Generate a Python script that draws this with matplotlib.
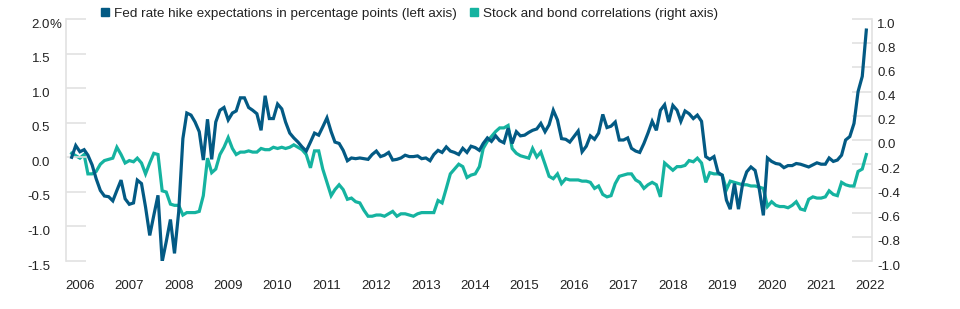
import matplotlib
matplotlib.use('Agg')
import matplotlib.pyplot as plt
import matplotlib.dates as mdates
from matplotlib.lines import Line2D
from matplotlib.transforms import ScaledTranslation
import pandas as pd

# monthly readings, Nov 2005 onwards
fed_hike = [
    0.00, 0.17, 0.08, 0.11, 0.03, -0.11, -0.31, -0.48, -0.56, -0.57, -0.63, -0.48,
    -0.33, -0.60, -0.68, -0.66, -0.33, -0.38, -0.72, -1.13, -0.84, -0.55, -1.51, -1.22,
    -0.90, -1.39, -0.79, 0.27, 0.64, 0.61, 0.51, 0.37, -0.04, 0.55, -0.03, 0.51,
    0.68, 0.72, 0.54, 0.64, 0.67, 0.86, 0.86, 0.72, 0.68, 0.63, 0.39, 0.89,
    0.56, 0.56, 0.77, 0.70, 0.51, 0.35, 0.28, 0.22, 0.15, 0.09, 0.22, 0.35,
    0.32, 0.44, 0.57, 0.37, 0.22, 0.20, 0.10, -0.05, -0.01, -0.02, -0.01, -0.02, -0.03,
    0.04, 0.09, 0.01, 0.03, 0.07, -0.04, -0.03, -0.01, 0.03, 0.01, 0.01, 0.02,
    -0.02, -0.01, -0.05, 0.04, 0.10, 0.07, 0.15, 0.09, 0.07, 0.04, 0.13,
    0.07, 0.16, 0.14, 0.10, 0.20, 0.28, 0.23, 0.31, 0.24, 0.21, 0.42, 0.20,
    0.37, 0.31, 0.32, 0.36, 0.39, 0.41, 0.49, 0.37, 0.47, 0.68, 0.54, 0.27,
    0.26, 0.22, 0.30, 0.38, 0.08, 0.16, 0.31, 0.26, 0.35, 0.62, 0.43, 0.45,
    0.51, 0.25, 0.25, 0.28, 0.13, 0.09, 0.07, 0.20, 0.35, 0.52, 0.39,
    0.68, 0.76, 0.51, 0.75, 0.68, 0.52, 0.67, 0.63, 0.56, 0.61, 0.52, 0.01, -0.03,
    0.01, -0.22, -0.26, -0.62, -0.75, -0.38, -0.75, -0.38, -0.21, -0.14, -0.19, -0.45, -0.84,
    -0.01, -0.06, -0.09, -0.10, -0.15, -0.12, -0.12, -0.09, -0.10, -0.12, -0.14, -0.11,
    -0.08, -0.10, -0.10, -0.01, -0.06, -0.04, 0.03, 0.25, 0.30, 0.49, 0.95, 1.17, 1.84,
]

stock_bond_corr = [
    -0.11, -0.13, -0.15, -0.12, -0.28, -0.28, -0.26, -0.20, -0.17, -0.16, -0.15, -0.06,
    -0.12, -0.19, -0.17, -0.18, -0.15, -0.19, -0.28, -0.19, -0.11, -0.12, -0.42, -0.43,
    -0.53, -0.54, -0.54, -0.62, -0.60, -0.60, -0.60, -0.59, -0.46, -0.15, -0.27, -0.24,
    -0.12, -0.06, 0.02, -0.07, -0.12, -0.10, -0.10, -0.09, -0.10, -0.10, -0.07, -0.08,
    -0.08, -0.06, -0.07, -0.06, -0.07, -0.06, -0.04, -0.06, -0.08, -0.12, -0.23, -0.09,
    -0.09, -0.24, -0.35, -0.46, -0.41, -0.37, -0.41, -0.49, -0.48, -0.51, -0.52, -0.58, -0.63,
    -0.63, -0.62, -0.62, -0.63, -0.61, -0.59, -0.63, -0.61, -0.61, -0.62, -0.63, -0.61,
    -0.60, -0.60, -0.60, -0.60, -0.50, -0.52, -0.40, -0.28, -0.24, -0.20, -0.22,
    -0.31, -0.29, -0.28, -0.22, -0.07, -0.01, 0.03, 0.07, 0.10, 0.10, 0.12, -0.07,
    -0.11, -0.13, -0.14, -0.15, -0.07, -0.14, -0.10, -0.20, -0.30, -0.32, -0.28, -0.36,
    -0.32, -0.33, -0.33, -0.33, -0.34, -0.34, -0.35, -0.40, -0.38, -0.45, -0.47, -0.46,
    -0.36, -0.30, -0.29, -0.28, -0.28, -0.33, -0.35, -0.40, -0.37, -0.35, -0.37,
    -0.47, -0.19, -0.22, -0.25, -0.22, -0.22, -0.21, -0.17, -0.18, -0.15, -0.19, -0.35, -0.27,
    -0.28, -0.28, -0.29, -0.41, -0.34, -0.35, -0.36, -0.37, -0.37, -0.38, -0.38, -0.39, -0.40,
    -0.55, -0.51, -0.54, -0.55, -0.55, -0.56, -0.54, -0.51, -0.57, -0.58, -0.49, -0.47,
    -0.48, -0.48, -0.47, -0.42, -0.45, -0.46, -0.35, -0.37, -0.38, -0.38, -0.26, -0.24, -0.12,
]

months = pd.date_range('2005-11-01', periods=len(fed_hike), freq='MS')

left_ticks = [2.0, 1.5, 1.0, 0.5, 0.0, -0.5, -1.0, -1.5]
right_ticks = [1.0, 0.8, 0.6, 0.4, 0.2, 0.0, -0.2, -0.4, -0.6, -0.8, -1.0]
years = list(range(2006, 2023))

fed_label = 'Fed rate hike expectations in percentage points (left axis)'
corr_label = 'Stock and bond correlations (right axis)'

dark_blue = '#035a84'
teal = '#15b3a0'
grey = '#e2e2e2'
text_col = '#222222'

plt.rcParams['font.family'] = ['Liberation Sans', 'DejaVu Sans']

fig = plt.figure(figsize=(9.6, 3.09), dpi=100)
ax = fig.add_axes([66 / 960, 1 - 261 / 309, 806 / 960, 242 / 309])
ax2 = ax.twinx()

ax2.plot(months, stock_bond_corr, color=teal, lw=2.3, solid_joinstyle='miter')
ax.plot(months, fed_hike, color=dark_blue, lw=2.3, solid_joinstyle='miter')

# blue line drawn above the teal one
ax.set_zorder(ax2.get_zorder() + 1)
ax.patch.set_visible(False)

ax.set_ylim(-1.5, 2.0)
ax2.set_ylim(-1.0, 1.0)
ax.set_xlim(pd.Timestamp('2005-09-20'), pd.Timestamp('2022-01-12'))

ax.set_yticks(left_ticks)
ax.set_yticklabels(['2.0'] + ['%.1f' % v for v in left_ticks[1:]])
ax2.set_yticks(right_ticks)
ax2.set_yticklabels(['%.1f' % v for v in right_ticks])

ax.set_xticks([pd.Timestamp('%d-01-01' % y) for y in years])
ax.xaxis.set_major_formatter(mdates.DateFormatter('%Y'))

for a in (ax, ax2):
    for s in a.spines.values():
        s.set_visible(False)
    a.tick_params(axis='x', length=0, pad=14, labelsize=9.5, labelcolor=text_col)
ax.spines['left'].set_visible(True)
ax.spines['left'].set_color(grey)
ax.spines['left'].set_linewidth(1.2)
ax2.spines['right'].set_visible(True)
ax2.spines['right'].set_color(grey)
ax2.spines['right'].set_linewidth(1.2)

ax.tick_params(axis='y', direction='in', length=14.4, width=1.2, color=grey,
               pad=11.5, labelsize=9.5, labelcolor=text_col)
ax2.tick_params(axis='y', direction='in', length=14.4, width=1.2, color=grey,
                pad=3.6, labelsize=9.5, labelcolor=text_col)

# labels sit a little below their tick stubs
shift = ScaledTranslation(0, -4 / 100, fig.dpi_scale_trans)
for lab in ax.get_yticklabels() + ax2.get_yticklabels():
    lab.set_transform(lab.get_transform() + shift)

ax.annotate('%', xy=(0, 2.0), xycoords=('axes fraction', 'data'),
            xytext=(-16, -4), textcoords='offset pixels', ha='left', va='center_baseline',
            fontsize=9.5, color=text_col)

handles = [Line2D([], [], marker='s', ls='none', color=dark_blue, markersize=5.5),
           Line2D([], [], marker='s', ls='none', color=teal, markersize=5.5)]
fig.legend(handles, [fed_label, corr_label], loc='center left',
           bbox_to_anchor=(101 / 960, 1 - 14 / 309), ncol=2, frameon=False,
           fontsize=9.7, handlelength=0.6, handletextpad=0.4, columnspacing=0.9,
           borderpad=0, borderaxespad=0, labelcolor=text_col)

fig.savefig('out.png', dpi=100)
